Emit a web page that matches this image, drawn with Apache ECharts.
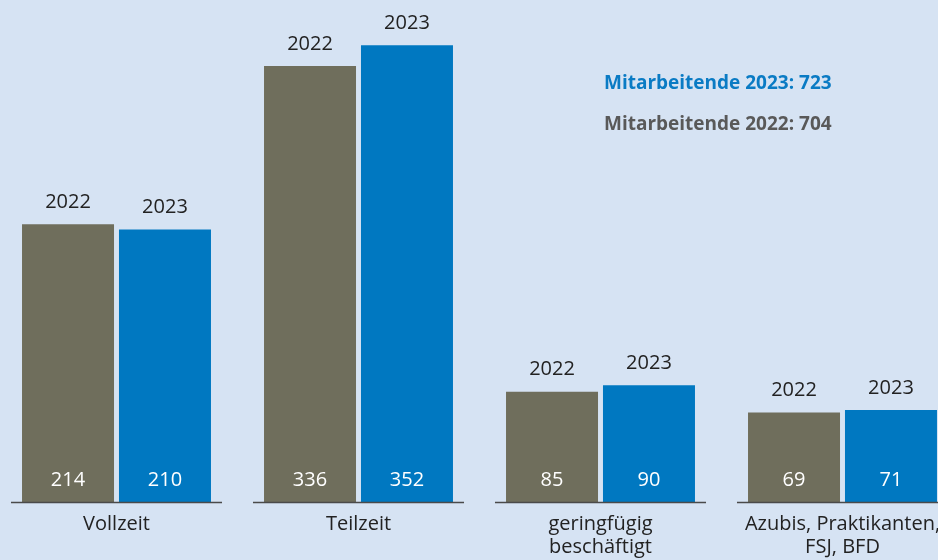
<!DOCTYPE html>
<html>
<head>
<meta charset="utf-8">
<script src="https://cdn.jsdelivr.net/npm/echarts@6/dist/echarts.min.js"></script>
<style>
  html, body { margin: 0; padding: 0; background: #d6e3f3; }
  #chart { width: 938px; height: 560px; }
</style>
</head>
<body>
<div id="chart"></div>
<script>
const categories = ['Vollzeit', 'Teilzeit', 'geringfügig\nbeschäftigt', 'Azubis, Praktikanten,\nFSJ, BFD'];
const values2022 = [214, 336, 85, 69];
const values2023 = [210, 352, 90, 71];
const totals = { '2023': 723, '2022': 704 };

const GRAY = '#6f6e5c';
const BLUE = '#0078c1';
const FONT = '"Open Sans", sans-serif';

const myChart = echarts.init(document.getElementById('chart'));

// shared label setup for both bar series
const makeSeries = (name, data, color) => ({
  name,
  type: 'bar',
  data,
  barWidth: 92,
  barGap: '5.4%',
  itemStyle: { color },
  label: {
    show: true,
    position: 'insideBottom',
    distance: 12,
    color: '#fff',
    fontFamily: FONT,
    fontSize: 20,
    formatter: '{c}',
  },
  emphasis: { disabled: true },
});

const series2022 = makeSeries('2022', values2022, GRAY);
const series2023 = makeSeries('2023', values2023, BLUE);

// year label above each bar (second label via a transparent overlay series)
const yearSeries = (name, data) => ({
  name: name + '-year',
  type: 'bar',
  data,
  barWidth: 92,
  barGap: '5.4%',
  itemStyle: { color: 'transparent' },
  label: {
    show: true,
    position: 'top',
    distance: 12,
    color: '#222',
    fontFamily: FONT,
    fontSize: 20,
    formatter: name,
  },
  silent: true,
});

const option = {
  backgroundColor: '#d6e3f3',
  animation: false,
  grid: { left: -4.5, width: 968, top: 9, bottom: 58, outerBoundsMode: 'none', containLabel: false },
  xAxis: [
    {
      type: 'category',
      data: categories,
      axisLine: { show: false },
      axisTick: { show: false },
      axisLabel: {
        margin: 11,
        color: '#222',
        fontFamily: FONT,
        fontSize: 20,
        lineHeight: 23,
        interval: 0,
      },
    },
    {
      type: 'category',
      data: categories,
      show: false,
    },
  ],
  yAxis: { type: 'value', min: 0, max: 380, show: false },
  series: [
    series2022,
    series2023,
    Object.assign(yearSeries('2022', values2022), { xAxisIndex: 1 }),
    Object.assign(yearSeries('2023', values2023), { xAxisIndex: 1 }),
    {
      // baseline segment under each group
      type: 'custom',
      silent: true,
      data: categories.map((c, i) => [i, 0]),
      renderItem: (params, api) => {
        const p = api.coord([api.value(0), 0]);
        const band = api.size([1, 0])[0];
        const half = band * 0.436;
        return {
          type: 'line',
          shape: { x1: p[0] - half, y1: p[1] + 0.5, x2: p[0] + half, y2: p[1] + 0.5 },
          style: { stroke: '#4a4a4a', lineWidth: 1.5 },
        };
      },
      z: 5,
    },
  ],
  graphic: [
    {
      type: 'text',
      left: 604,
      top: 74,
      style: {
        text: 'Mitarbeitende 2023: ' + totals['2023'],
        fill: '#0a7bc4',
        font: 'bold 19px "Open Sans", sans-serif',
      },
    },
    {
      type: 'text',
      left: 604,
      top: 115,
      style: {
        text: 'Mitarbeitende 2022: ' + totals['2022'],
        fill: '#595959',
        font: 'bold 19px "Open Sans", sans-serif',
      },
    },
  ],
};

myChart.setOption(option);
</script>
</body>
</html>
